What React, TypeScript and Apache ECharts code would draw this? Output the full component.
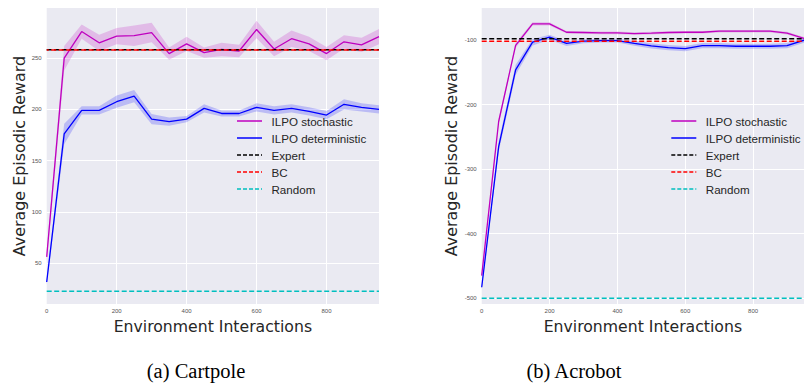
import React, { useEffect, useRef } from "react";
import * as echarts from "echarts";

const STEPS = [0, 50, 100, 150, 200, 250, 300, 350, 400, 450, 500, 550, 600, 650, 700, 750, 800, 850, 900, 950];

const CART_STOCH = [56, 250, 276, 265, 271.5, 272, 275, 254.5, 264, 255.5, 258.5, 257, 278, 259, 269, 264, 254.5, 266, 263, 271];
const CART_STOCH_ERR = [5, 12, 7, 8, 8, 10, 9.5, 6, 7, 5, 6.5, 6, 8.5, 7, 8, 7, 6.5, 6.5, 7, 7.5];
const CART_DET = [31.5, 176, 199, 199, 207.5, 213, 190.5, 188, 190.5, 201, 196, 196, 202, 199, 201, 198, 194.5, 205, 202, 200];
const CART_DET_ERR = [3, 10, 4, 4, 6, 6, 5, 4, 3, 4, 3, 3, 4, 4, 4, 4, 4, 5, 4, 4];
const CART_EXPERT = 258.3;
const CART_BC = 258;
const CART_RANDOM = 22.4;

const ACRO_STOCH = [-465, -226, -108, -74.6, -74.6, -87.6, -88, -88.6, -88.6, -89.6, -89, -88, -87.6, -87.6, -86, -86, -86, -86, -89, -97];
const ACRO_STOCH_ERR = [3, 4, 4, 2.5, 2.5, 2, 2, 2, 2, 2, 2, 2, 2, 2, 2, 2, 2, 2, 2, 2];
const ACRO_DET = [-483, -265, -146, -103, -95.3, -105, -101.5, -100.5, -100.5, -104.7, -108.8, -111.4, -113, -108.3, -108.3, -109.3, -109.3, -109.3, -108.3, -100];
const ACRO_DET_ERR = [3, 8, 8, 5, 4, 4, 3, 3, 3, 4, 4, 4, 4, 4, 4, 4, 4, 4, 4, 4];
const ACRO_EXPERT = -97.5;
const ACRO_BC = -101.5;
const ACRO_RANDOM = -500;

const LEGEND_NAMES = ["ILPO stochastic", "ILPO deterministic", "Expert", "BC", "Random"];
const CAPTIONS = ["(a) Cartpole", "(b) Acrobot"];
const X_TITLE = "Environment Interactions";
const Y_TITLE = "Average Episodic Reward";

const C_STOCH = "#bf00bf";
const C_DET = "#0000ff";
const C_EXPERT = "#000000";
const C_BC = "#ff0000";
const C_RANDOM = "#00bfbf";
const LEGEND_COLORS = [C_STOCH, C_DET, C_EXPERT, C_BC, C_RANDOM];
const LEGEND_DASHED = [false, false, true, true, true];

const BAND_FILL: Record<string, string> = {
  [C_STOCH]: "rgba(191,0,191,0.2)",
  [C_DET]: "rgba(0,0,255,0.2)",
};

function bandSeries(idx: number, vals: number[], errs: number[], color: string) {
  return {
    type: "custom",
    xAxisIndex: idx,
    yAxisIndex: idx,
    data: STEPS.map((x, i) => [x, vals[i] - errs[i], vals[i] + errs[i]]),
    encode: { x: 0, y: [1, 2] },
    silent: true,
    z: 1,
    renderItem: (params: any, api: any) => {
      if (params.dataIndex !== 0) return null;
      const upper = STEPS.map((x, i) => api.coord([x, vals[i] + errs[i]]));
      const lower = STEPS.map((x, i) => api.coord([x, vals[i] - errs[i]])).reverse();
      return {
        type: "polygon",
        shape: { points: upper.concat(lower) },
        style: { fill: BAND_FILL[color], stroke: "none" },
      };
    },
  };
}

function mainLine(idx: number, name: string, vals: number[], color: string) {
  return {
    type: "line", name, xAxisIndex: idx, yAxisIndex: idx,
    data: STEPS.map((x, i) => [x, vals[i]]), symbol: "none",
    lineStyle: { color, width: 1.3 }, itemStyle: { color }, z: 3,
  };
}

function hLine(idx: number, name: string, v: number, color: string, offset = 0) {
  return {
    type: "line", name, xAxisIndex: idx, yAxisIndex: idx,
    data: [[STEPS[0], v], [STEPS[STEPS.length - 1], v]], symbol: "none",
    lineStyle: { color, width: 1.5, type: [5, 2.5], dashOffset: offset }, itemStyle: { color }, z: 4,
  };
}

const LEGEND_ROWS = [121, 138, 155, 172, 189];

function legendGraphics(x0: number) {
  const out: any[] = [];
  LEGEND_NAMES.forEach((name, i) => {
    const y = LEGEND_ROWS[i];
    out.push({
      type: "line",
      shape: { x1: x0, y1: y, x2: x0 + 25, y2: y },
      style: { stroke: LEGEND_COLORS[i], lineWidth: 1.5, lineDash: LEGEND_DASHED[i] ? [4, 2] : null },
      z: 10,
    });
    out.push({
      type: "text",
      x: x0 + 34.5,
      y,
      style: { text: name, fontSize: 11.6, fontFamily: "Liberation Sans", fill: "#262626", textAlign: "left", textVerticalAlign: "middle" },
      z: 10,
    });
  });
  return out;
}

const GRID_TOP = 8;
const GRID_BOTTOM = 85;

export default function App() {
  const ref = useRef<HTMLDivElement>(null);
  useEffect(() => {
    if (!ref.current) return;
    const chart = echarts.init(ref.current, null, { renderer: "svg" });
    const axisLabel = { fontSize: 6, color: "#555", fontFamily: "Liberation Sans" };
    const splitLine = { show: true, lineStyle: { color: "#ffffff", width: 1 }, showMinLine: false, showMaxLine: false };
    const xAxisBase = {
      type: "value", min: 0, max: 950, interval: 200,
      axisLine: { show: false }, axisTick: { show: false },
      axisLabel: { ...axisLabel, margin: 4, showMaxLabel: false },
      splitLine,
      name: X_TITLE, nameLocation: "middle", nameGap: 9,
      nameTextStyle: { fontSize: 15.7, color: "#262626", fontFamily: "DejaVu Sans" },
    };
    const yAxisBase = {
      type: "value",
      axisLine: { show: false }, axisTick: { show: false },
      axisLabel: { ...axisLabel, margin: 5, showMaxLabel: false, showMinLabel: false },
      splitLine,
      name: Y_TITLE, nameLocation: "middle",
      nameTextStyle: { fontSize: 15.9, color: "#262626", fontFamily: "DejaVu Sans" },
    };
    chart.setOption({
      animation: false,
      backgroundColor: "#ffffff",
      grid: [
        { left: 46.7, right: 804 - 379, top: GRID_TOP, bottom: GRID_BOTTOM, show: true, backgroundColor: "#eaeaf2", borderWidth: 0 },
        { left: 481.7, right: -9, top: GRID_TOP, bottom: GRID_BOTTOM, show: true, backgroundColor: "#eaeaf2", borderWidth: 0 },
      ],
      xAxis: [
        { ...xAxisBase, gridIndex: 0 },
        { ...xAxisBase, gridIndex: 1 },
      ],
      yAxis: [
        { ...yAxisBase, gridIndex: 0, min: 10, max: 299, minInterval: 50, maxInterval: 50, nameGap: 19 },
        { ...yAxisBase, gridIndex: 1, min: -509, max: -50, minInterval: 100, maxInterval: 100, nameGap: 22 },
      ],
      series: [
        bandSeries(0, CART_STOCH, CART_STOCH_ERR, C_STOCH),
        bandSeries(0, CART_DET, CART_DET_ERR, C_DET),
        mainLine(0, LEGEND_NAMES[0], CART_STOCH, C_STOCH),
        mainLine(0, LEGEND_NAMES[1], CART_DET, C_DET),
        hLine(0, LEGEND_NAMES[2], CART_EXPERT, C_EXPERT),
        hLine(0, LEGEND_NAMES[3], CART_BC, C_BC, 3),
        hLine(0, LEGEND_NAMES[4], CART_RANDOM, C_RANDOM),
        bandSeries(1, ACRO_STOCH, ACRO_STOCH_ERR, C_STOCH),
        bandSeries(1, ACRO_DET, ACRO_DET_ERR, C_DET),
        mainLine(1, LEGEND_NAMES[0], ACRO_STOCH, C_STOCH),
        mainLine(1, LEGEND_NAMES[1], ACRO_DET, C_DET),
        hLine(1, LEGEND_NAMES[2], ACRO_EXPERT, C_EXPERT),
        hLine(1, LEGEND_NAMES[3], ACRO_BC, C_BC),
        hLine(1, LEGEND_NAMES[4], ACRO_RANDOM, C_RANDOM),
      ],
      graphic: [
        ...legendGraphics(237),
        ...legendGraphics(671.3),
        { type: "text", x: 196, y: 371, style: { text: CAPTIONS[0], fontSize: 20.5, fontFamily: "Liberation Serif", fill: "#000", textAlign: "center", textVerticalAlign: "middle" } },
        { type: "text", x: 574, y: 371, style: { text: CAPTIONS[1], fontSize: 20.5, fontFamily: "Liberation Serif", fill: "#000", textAlign: "center", textVerticalAlign: "middle" } },
      ],
    });
    return () => chart.dispose();
  }, []);
  return <div ref={ref} style={{ position: "fixed", left: 0, top: 0, width: 804, height: 389 }} />;
}
